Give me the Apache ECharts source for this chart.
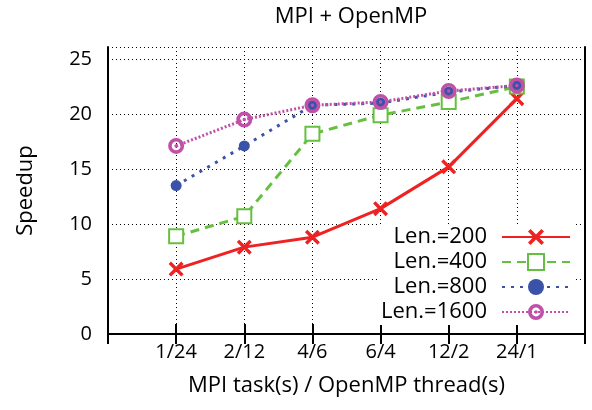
<!DOCTYPE html>
<html><head><meta charset="utf-8">
<script src="https://cdn.jsdelivr.net/npm/echarts@6/dist/echarts.min.js"></script>
<style>html,body{margin:0;padding:0;background:#fff}#c{width:592px;height:410px}</style>
</head><body><div id="c"></div>
<script>
var categories = ['1/24', '2/12', '4/6', '6/4', '12/2', '24/1'];
var len200  = [5.9, 7.9, 8.8, 11.4, 15.2, 21.4];
var len400  = [8.9, 10.7, 18.2, 19.9, 21.1, 22.5];
var len800  = [13.5, 17.1, 20.8, 21.0, 22.0, 22.6];
var len1600 = [17.1, 19.5, 20.8, 21.1, 22.1, 22.6];
var seriesNames = ['Len.=200', 'Len.=400', 'Len.=800', 'Len.=1600'];
var yTicks = [0, 5, 10, 15, 20, 25];

var FONT = 'Open Sans';
var padCats = [''].concat(categories, ['']);
function pad(a){ return [null].concat(a, [null]); }
var xSym = 'path://M1.6,0 L5,3.4 L8.4,0 L10,1.6 L6.6,5 L10,8.4 L8.4,10 L5,6.6 L1.6,10 L0,8.4 L3.4,5 L0,1.6 Z';
var ringSym = 'path://M10,0 A10,10 0 1,1 10,20 A10,10 0 1,1 10,0 Z M10,4.5 A5.5,5.5 0 1,0 10,15.5 A5.5,5.5 0 1,0 10,4.5 Z M10,7.8 A2.2,2.2 0 1,1 10,12.2 A2.2,2.2 0 1,1 10,7.8 Z';

var chart = echarts.init(document.getElementById('c'), null, {renderer: 'canvas'});
var axisLine = {show: true, lineStyle: {color: '#000', width: 2}};
var grid = {left: 108, right: 7, top: 47, bottom: 76};
chart.setOption({
  animation: false,
  backgroundColor: '#fff',
  title: {text: 'MPI + OpenMP', left: 346, textAlign: 'center', top: 1,
    textStyle: {fontFamily: FONT, fontSize: 22, fontWeight: 'normal', color: '#000'}},
  grid: grid,
  legend: {
    orient: 'vertical', right: 17, top: 224, align: 'right',
    backgroundColor: '#fff', padding: [2, 4, 2, 4],
    itemWidth: 68, itemHeight: 20, itemGap: 3,
    textStyle: {fontFamily: FONT, fontSize: 22, lineHeight: 21, color: '#000', padding: [0, 10, 0, 0]},
    data: seriesNames
  },
  xAxis: [{
    type: 'category', data: padCats, boundaryGap: false,
    name: 'MPI task(s) / OpenMP thread(s)', nameLocation: 'middle', nameGap: 41,
    nameTextStyle: {fontFamily: FONT, fontSize: 22, color: '#000'},
    axisLine: axisLine,
    axisTick: {inside: true, length: 10, lineStyle: {color: '#000', width: 2}},
    axisLabel: {fontFamily: FONT, fontSize: 20, color: '#000', margin: 8, interval: 0},
    splitLine: {show: true, lineStyle: {color: '#000', width: 1, type: [1, 3]}}
  }, {
    type: 'category', data: padCats, boundaryGap: false, position: 'top',
    axisLine: axisLine,
    axisTick: {inside: true, length: 10, lineStyle: {color: '#000', width: 2}},
    axisLabel: {show: false}, splitLine: {show: false}
  }],
  yAxis: [{
    type: 'value', min: 0, max: 26.1, interval: 5,
    name: 'Speedup', nameLocation: 'middle', nameGap: 71, nameRotate: 90,
    nameTextStyle: {fontFamily: FONT, fontSize: 22, color: '#000'},
    axisLine: axisLine,
    axisTick: {inside: true, length: 10, lineStyle: {color: '#000', width: 2}},
    axisLabel: {fontFamily: FONT, fontSize: 20, color: '#000', margin: 16, showMaxLabel: false,
      formatter: function(v){ return yTicks.indexOf(v) >= 0 ? String(v) : ''; }},
    splitLine: {show: true, lineStyle: {color: '#000', width: 1, type: [1, 3]}}
  }, {
    type: 'value', min: 0, max: 26.1, interval: 5, position: 'right',
    axisLine: axisLine,
    axisTick: {inside: true, length: 10, lineStyle: {color: '#000', width: 2}},
    axisLabel: {show: false}, splitLine: {show: false}
  }],
  series: [
    {name: seriesNames[0], type: 'line', data: pad(len200), symbol: xSym, symbolSize: 15,
     lineStyle: {color: '#ee2222', width: 3}, itemStyle: {color: '#ee2222'}},
    {name: seriesNames[1], type: 'line', data: pad(len400), symbol: 'emptyRect', symbolSize: 14,
     lineStyle: {color: '#66c040', width: 3, type: [9, 6]}, itemStyle: {color: '#66c040', borderWidth: 3}},
    {name: seriesNames[2], type: 'line', data: pad(len800), symbol: 'circle', symbolSize: 11,
     lineStyle: {color: '#3a52a8', width: 3, type: [3, 6]}, itemStyle: {color: '#3a52a8'}},
    {name: seriesNames[3], type: 'line', data: pad(len1600), symbol: ringSym, symbolSize: 16,
     lineStyle: {color: '#c050a8', width: 3, type: [2, 2]}, itemStyle: {color: '#c050a8'}}
  ]
});
</script>
</body></html>
